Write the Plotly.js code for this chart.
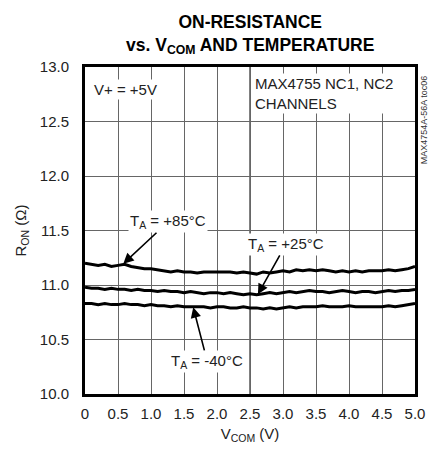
<!DOCTYPE html>
<html>
<head>
<meta charset="utf-8">
<script src="https://cdn.plot.ly/plotly-3.0.1.min.js"></script>
<style>html,body{margin:0;padding:0;background:#fff;}#chart{width:433px;height:459px;}</style>
</head>
<body>
<div id="chart"></div>
<script>
const vcom = [0.0,0.1,0.2,0.3,0.4,0.5,0.6,0.7,0.8,0.9,
              1.0,1.1,1.2,1.3,1.4,1.5,1.6,1.7,1.8,1.9,
              2.0,2.1,2.2,2.3,2.4,2.5,2.6,2.7,2.8,2.9,
              3.0,3.1,3.2,3.3,3.4,3.5,3.6,3.7,3.8,3.9,
              4.0,4.1,4.2,4.3,4.4,4.5,4.6,4.7,4.8,4.9,
              5.0];
const ron85 = [11.20,11.19,11.18,11.19,11.17,11.18,11.19,11.17,11.16,11.15,
               11.15,11.14,11.13,11.12,11.13,11.12,11.12,11.11,11.12,11.12,
               11.12,11.12,11.12,11.11,11.12,11.11,11.10,11.12,11.11,11.12,
               11.13,11.12,11.14,11.13,11.14,11.13,11.14,11.13,11.12,11.13,
               11.12,11.13,11.12,11.13,11.13,11.13,11.14,11.13,11.14,11.15,
               11.17];
const ron25 = [10.98,10.97,10.97,10.96,10.97,10.96,10.96,10.95,10.96,10.95,
               10.95,10.94,10.95,10.94,10.94,10.93,10.94,10.93,10.92,10.93,
               10.93,10.92,10.93,10.92,10.91,10.92,10.91,10.92,10.93,10.92,
               10.93,10.94,10.93,10.94,10.95,10.94,10.94,10.93,10.94,10.95,
               10.94,10.93,10.94,10.94,10.93,10.94,10.95,10.94,10.95,10.95,
               10.96];
const ronM40 = [10.83,10.83,10.82,10.83,10.82,10.82,10.83,10.82,10.82,10.81,
                10.82,10.81,10.81,10.80,10.81,10.80,10.80,10.80,10.80,10.79,
                10.80,10.80,10.79,10.79,10.80,10.79,10.79,10.78,10.79,10.78,
                10.79,10.80,10.79,10.80,10.80,10.80,10.81,10.80,10.80,10.80,
                10.81,10.80,10.80,10.80,10.80,10.80,10.81,10.80,10.81,10.82,
                10.83];
const xTickVals = [0,0.5,1,1.5,2,2.5,3,3.5,4,4.5,5];
const xTickText = ['0','0.5','1.0','1.5','2.0','2.5','3.0','3.5','4.0','4.5','5.0'];
const yTickVals = [10,10.5,11,11.5,12,12.5,13];
const yTickText = ['10.0','10.5','11.0','11.5','12.0','12.5','13.0'];

const FONT = 'Liberation Sans, Arial, sans-serif';
const TXT = '#222';
const line = {color:'#000', width:3};
const traces = [
  {x:vcom, y:ron85, mode:'lines', line:line, hoverinfo:'skip'},
  {x:vcom, y:ron25, mode:'lines', line:line, hoverinfo:'skip'},
  {x:vcom, y:ronM40, mode:'lines', line:line, hoverinfo:'skip'}
];
const shapes = [
  {type:'line', xref:'x', yref:'paper', x0:2.5, x1:2.5, y0:0, y1:1, line:{color:'#000', width:1}, layer:'below'}
];
const annFont = {family:FONT, size:15, color:TXT};
const annotations = [
  {xref:'paper', yref:'paper', x:0.5, y:1.175, xanchor:'center', yanchor:'top', align:'center',
   text:'<b>ON-RESISTANCE<br>vs. V<sub>COM</sub> AND TEMPERATURE</b>', showarrow:false,
   font:{family:FONT, size:17.5, color:'#000'}},
  {xref:'paper', yref:'paper', x:0.02, y:0.93, xanchor:'left', yanchor:'middle', text:'V+ = +5V', showarrow:false, font:annFont, bgcolor:'#fff'},
  {xref:'paper', yref:'paper', x:0.51, y:0.92, xanchor:'left', yanchor:'middle', align:'left', text:'MAX4755 NC1, NC2<br>CHANNELS', showarrow:false, font:annFont, bgcolor:'#fff'},
  {xref:'x', yref:'y', x:0.58, y:11.195, ax:45, ay:-42, text:'T<sub>A</sub> = +85°C', showarrow:true, arrowhead:2, arrowsize:1.3, arrowwidth:1.6, arrowcolor:'#000', font:annFont, bgcolor:'#fff'},
  {xref:'x', yref:'y', x:2.62, y:10.915, ax:28, ay:-50, text:'T<sub>A</sub> = +25°C', showarrow:true, arrowhead:2, arrowsize:1.3, arrowwidth:1.6, arrowcolor:'#000', font:annFont, bgcolor:'#fff'},
  {xref:'x', yref:'y', x:1.64, y:10.795, ax:14, ay:54, text:'T<sub>A</sub> = -40°C', showarrow:true, arrowhead:2, arrowsize:1.3, arrowwidth:1.6, arrowcolor:'#000', font:annFont, bgcolor:'#fff'},
  {xref:'paper', yref:'paper', x:1.027, y:0.84, xanchor:'center', yanchor:'middle', textangle:-90, text:'MAX4754A-56A toc06', showarrow:false, font:{family:FONT, size:9, color:'#333'}}
];
const layout = {
  width:433, height:459,
  margin:{l:85, r:18, t:67, b:65},
  paper_bgcolor:'#fff', plot_bgcolor:'#fff',
  showlegend:false,
  font:{family:FONT, size:15, color:TXT},
  xaxis:{range:[0,5], tickvals:xTickVals, ticktext:xTickText, showgrid:true, gridcolor:'#666', gridwidth:1,
         showline:true, mirror:true, linecolor:'#000', linewidth:3, ticks:'', zeroline:false,
         ticklabelstandoff:4,
         tickfont:{family:FONT, size:15, color:TXT},
         title:{text:'V<sub>COM</sub> (V)', font:{family:FONT, size:15, color:TXT}, standoff:8}},
  yaxis:{range:[10,13], tickvals:yTickVals, ticktext:yTickText, showgrid:true, gridcolor:'#666', gridwidth:1,
         showline:true, mirror:true, linecolor:'#000', linewidth:3, ticks:'', zeroline:false,
         ticklabelstandoff:10,
         tickfont:{family:FONT, size:15, color:TXT},
         title:{text:'R<sub>ON</sub> (Ω)', font:{family:FONT, size:15, color:TXT}, standoff:10}},
  shapes:shapes,
  annotations:annotations
};
Plotly.newPlot('chart', traces, layout, {staticPlot:true, displayModeBar:false});
</script>
</body>
</html>
